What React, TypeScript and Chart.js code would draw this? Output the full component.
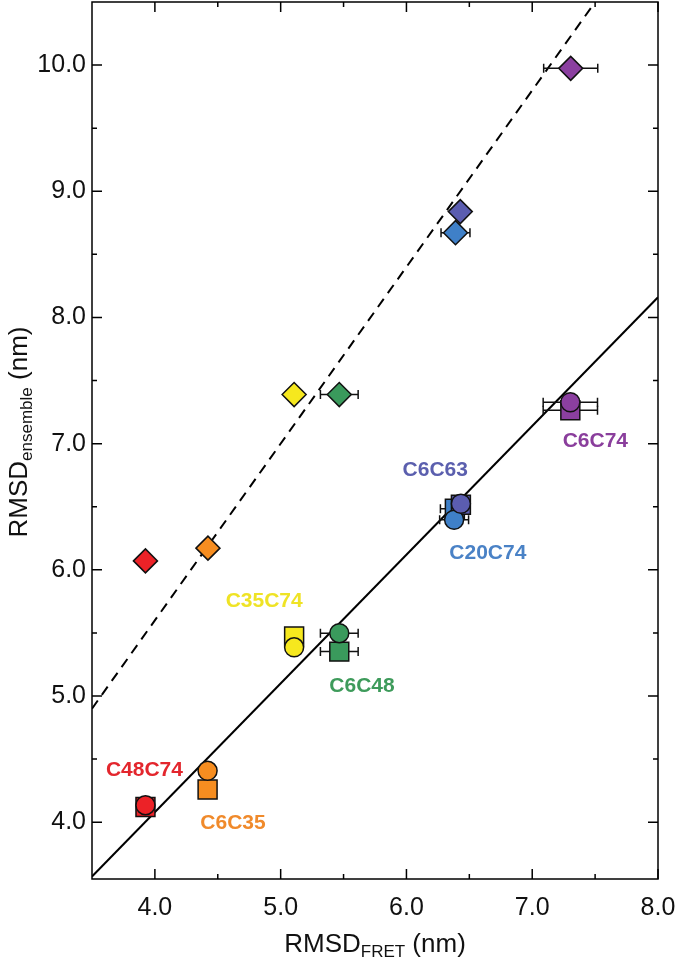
import React, { useEffect, useRef } from "react";
import { Chart, registerables } from "chart.js";

Chart.register(...registerables);

// ---------- data ----------
const constructs = ["C48C74", "C6C35", "C35C74", "C6C48", "C20C74", "C6C63", "C6C74"];
const markerColors = ["#ec2227", "#f68d20", "#f6e81e", "#3a9a5c", "#3f80c8", "#5b5db0", "#8b3fa0"];
const labelColors = ["#e3262d", "#f08a2b", "#efe325", "#3e9b5b", "#4a82c6", "#5b5fae", "#8a3e9c"];

// squares
const squareX = [3.925, 4.419, 5.107, 5.466, 6.385, 6.433, 7.303];
const squareY = [4.121, 4.259, 5.471, 5.352, 6.484, 6.516, 7.264];
const squareErr = [0.07, 0, 0, 0.15, 0.115, 0, 0.216];
// circles
const circleX = [3.925, 4.419, 5.107, 5.466, 6.379, 6.433, 7.303];
const circleY = [4.135, 4.407, 5.386, 5.498, 6.397, 6.524, 7.328];
const circleErr = [0, 0, 0, 0.15, 0.115, 0, 0.216];
// diamonds
const diamondX = [3.925, 4.422, 5.107, 5.466, 6.39, 6.428, 7.306];
const diamondY = [6.071, 6.172, 7.389, 7.389, 8.672, 8.839, 9.974];
const diamondErr = [0, 0, 0, 0.15, 0.115, 0, 0.215];

// construct labels (data coordinates of label centres)
const labelX = [3.917, 4.621, 4.869, 5.647, 6.647, 6.229, 7.502];
const labelY = [4.413, 3.99, 5.748, 5.074, 6.133, 6.788, 7.018];

// fitted lines y = slope * x
const solidSlope = 1.02;
const dashedSlope = 1.4;

// axes
const xMin = 3.5;
const xMax = 8.0;
const yMin = 3.55;
const yMax = 10.5;
const xTickValues = [4, 5, 6, 7, 8];
const yTickValues = [4, 5, 6, 7, 8, 9, 10];
const xMinorValues = [3.5, 4.5, 5.5, 6.5, 7.5];
const yMinorValues = [4.5, 5.5, 6.5, 7.5, 8.5, 9.5];

const FONT = "'Liberation Sans', Arial, Helvetica, sans-serif";

function linePoints(slope: number) {
  const xEnd = Math.min(xMax, yMax / slope);
  return [
    { x: xMin, y: slope * xMin },
    { x: xEnd, y: slope * xEnd },
  ];
}

function pts(xs: number[], ys: number[]) {
  return xs.map((x, i) => ({ x, y: ys[i] }));
}

export default function App() {
  const ref = useRef<HTMLCanvasElement>(null);

  useEffect(() => {
    const canvas = ref.current;
    if (!canvas) return;

    const errorBarPlugin = {
      id: "errbars",
      beforeDatasetDraw(chart: any, args: any) {
        const ds = chart.data.datasets[args.index];
        if (!ds.xErr) return;
        const ctx = chart.ctx;
        const xs = chart.scales.x;
        const ys = chart.scales.y;
        ctx.save();
        ctx.strokeStyle = "#111";
        ctx.lineWidth = 1.5;
        ds.data.forEach((p: any, i: number) => {
          const e = ds.xErr[i];
          if (!e) return;
          const y = ys.getPixelForValue(p.y);
          const x1 = xs.getPixelForValue(p.x - e);
          const x2 = xs.getPixelForValue(p.x + e);
          ctx.beginPath();
          ctx.moveTo(x1, y);
          ctx.lineTo(x2, y);
          ctx.moveTo(x1, y - 4.5);
          ctx.lineTo(x1, y + 4.5);
          ctx.moveTo(x2, y - 4.5);
          ctx.lineTo(x2, y + 4.5);
          ctx.stroke();
        });
        ctx.restore();
      },
    };

    const decorPlugin = {
      id: "decor",
      afterDraw(chart: any) {
        const ctx = chart.ctx;
        const { left, right, top, bottom } = chart.chartArea;
        const xs = chart.scales.x;
        const ys = chart.scales.y;
        ctx.save();
        // labels
        ctx.font = `bold 21px ${FONT}`;
        ctx.textAlign = "center";
        ctx.textBaseline = "middle";
        constructs.forEach((name, i) => {
          ctx.fillStyle = labelColors[i];
          ctx.fillText(name, xs.getPixelForValue(labelX[i]), ys.getPixelForValue(labelY[i]));
        });
        // frame
        ctx.strokeStyle = "#000";
        ctx.lineWidth = 1.5;
        ctx.strokeRect(left, top, right - left, bottom - top);
        // ticks
        ctx.beginPath();
        const tickX = (v: number, len: number) => {
          const px = xs.getPixelForValue(v);
          ctx.moveTo(px, bottom);
          ctx.lineTo(px, bottom - len);
          ctx.moveTo(px, top);
          ctx.lineTo(px, top + len);
        };
        const tickY = (v: number, len: number) => {
          const py = ys.getPixelForValue(v);
          ctx.moveTo(left, py);
          ctx.lineTo(left + len, py);
          ctx.moveTo(right, py);
          ctx.lineTo(right - len, py);
        };
        xTickValues.forEach((v) => tickX(v, 10));
        xMinorValues.forEach((v) => v > xMin && tickX(v, 5));
        yTickValues.forEach((v) => tickY(v, 10));
        yMinorValues.forEach((v) => v < yMax && tickY(v, 5));
        ctx.stroke();

        // axis titles with subscript
        const drawTitle = (main: string, sub: string, tail: string) => {
          ctx.font = `26px ${FONT}`;
          const w1 = ctx.measureText(main).width;
          const w3 = ctx.measureText(tail).width;
          ctx.font = `17px ${FONT}`;
          const w2 = ctx.measureText(sub).width;
          const total = w1 + w2 + w3;
          let x = -total / 2;
          ctx.textAlign = "left";
          ctx.textBaseline = "alphabetic";
          ctx.fillStyle = "#111";
          ctx.font = `26px ${FONT}`;
          ctx.fillText(main, x, 0);
          x += w1;
          ctx.font = `17px ${FONT}`;
          ctx.fillText(sub, x, 5);
          x += w2;
          ctx.font = `26px ${FONT}`;
          ctx.fillText(tail, x, 0);
        };
        ctx.save();
        ctx.translate((left + right) / 2, 952);
        drawTitle("RMSD", "FRET", " (nm)");
        ctx.restore();
        ctx.save();
        ctx.translate(27, 432);
        ctx.rotate(-Math.PI / 2);
        drawTitle("RMSD", "ensemble", " (nm)");
        ctx.restore();
        ctx.restore();
      },
    };

    const chart = new Chart(canvas, {
      type: "scatter",
      data: {
        datasets: [
          {
            label: "solid",
            data: linePoints(solidSlope),
            showLine: true,
            borderColor: "#000",
            borderWidth: 2,
            pointRadius: 0,
            order: 10,
          } as any,
          {
            label: "dashed",
            data: linePoints(dashedSlope),
            showLine: true,
            borderColor: "#000",
            borderWidth: 2,
            borderDash: [10, 7],
            pointRadius: 0,
            order: 10,
          } as any,
          {
            label: "squares",
            data: pts(squareX, squareY),
            xErr: squareErr,
            pointStyle: "rect",
            pointRadius: 13.4,
            backgroundColor: markerColors,
            borderColor: "#111",
            borderWidth: 1.5,
            order: 5,
          } as any,
          {
            label: "circles",
            data: pts(circleX, circleY),
            xErr: circleErr,
            pointStyle: "circle",
            pointRadius: 9.5,
            backgroundColor: markerColors,
            borderColor: "#111",
            borderWidth: 1.5,
            order: 1,
          } as any,
          {
            label: "diamonds",
            data: pts(diamondX, diamondY),
            xErr: diamondErr,
            pointStyle: "rectRot",
            pointRadius: 12,
            backgroundColor: markerColors,
            borderColor: "#111",
            borderWidth: 1.5,
            order: 2,
          } as any,
        ],
      },
      options: {
        animation: false,
        responsive: false,
        events: [],
        layout: { autoPadding: false, padding: { top: 2, right: 19, left: 0, bottom: 0 } },
        plugins: {
          legend: { display: false },
          tooltip: { enabled: false },
        },
        scales: {
          x: {
            type: "linear",
            min: xMin,
            max: xMax,
            grid: { display: false, drawTicks: false },
            border: { display: false },
            afterBuildTicks: (scale: any) => {
              scale.ticks = xTickValues.map((v) => ({ value: v }));
            },
            afterFit: (scale: any) => {
              scale.height = 85;
              scale.paddingLeft = 0;
              scale.paddingRight = 0;
              scale.paddingTop = 0;
              scale.paddingBottom = 0;
            },
            ticks: {
              padding: 14,
              color: "#111",
              font: { family: FONT, size: 25 },
              callback: (v: any) => Number(v).toFixed(1),
            },
          },
          y: {
            type: "linear",
            min: yMin,
            max: yMax,
            grid: { display: false, drawTicks: false },
            border: { display: false },
            afterBuildTicks: (scale: any) => {
              scale.ticks = yTickValues.map((v) => ({ value: v }));
            },
            afterFit: (scale: any) => {
              scale.width = 92;
              scale.paddingLeft = 0;
              scale.paddingRight = 0;
              scale.paddingTop = 0;
              scale.paddingBottom = 0;
            },
            ticks: {
              padding: 6,
              color: "#111",
              font: { family: FONT, size: 25 },
              callback: (v: any) => Number(v).toFixed(1),
            },
          },
        },
      } as any,
      plugins: [errorBarPlugin, decorPlugin],
    });

    return () => chart.destroy();
  }, []);

  return (
    <div style={{ position: "fixed", left: 0, top: 0, width: 677, height: 964, background: "#fff" }}>
      <canvas ref={ref} width={677} height={964} style={{ display: "block" }} />
    </div>
  );
}
